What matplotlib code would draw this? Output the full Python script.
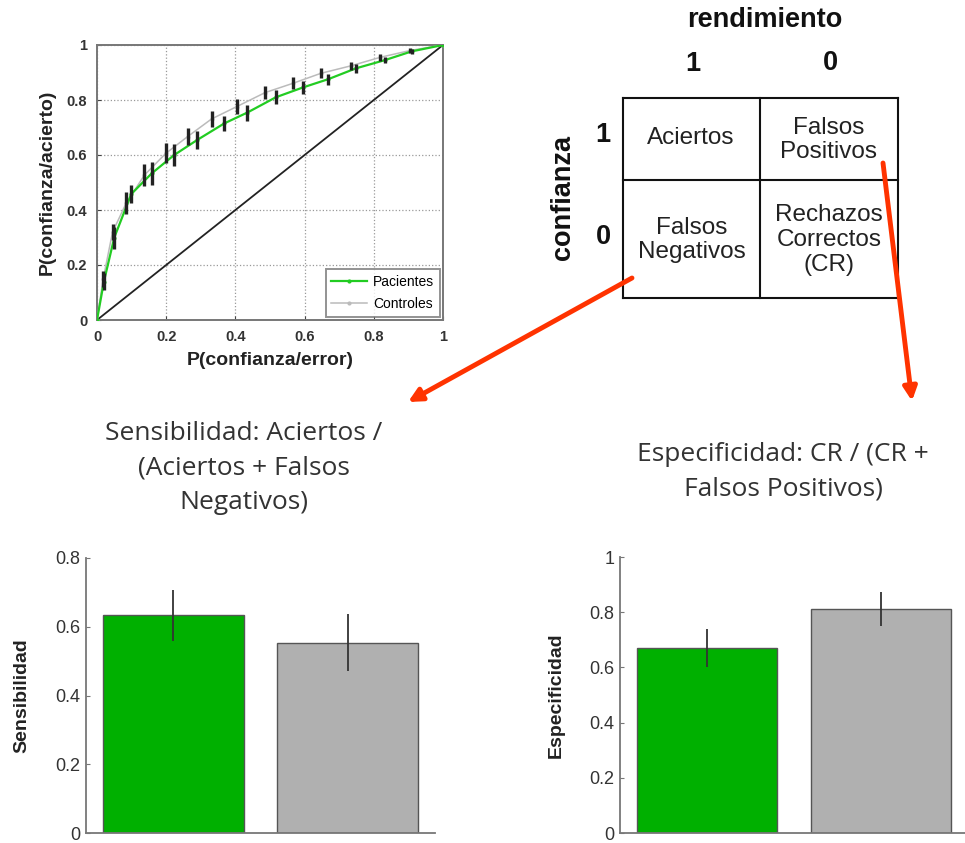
import matplotlib.pyplot as plt
import numpy as np

plt.rcParams['font.family'] = ['Liberation Sans', 'DejaVu Sans']

# ROC data: P(confianza/error) vs P(confianza/acierto)
ctrl_fa = [0, 0.018, 0.045, 0.084, 0.137, 0.199, 0.262, 0.331, 0.404, 0.486, 0.567, 0.647, 0.733, 0.818, 0.905, 1]
ctrl_hit = [0, 0.15, 0.32, 0.424, 0.527, 0.606, 0.667, 0.731, 0.776, 0.827, 0.861, 0.897, 0.924, 0.955, 0.98, 1]
ctrl_err = [0, 0.03, 0.03, 0.04, 0.041, 0.036, 0.032, 0.03, 0.028, 0.024, 0.021, 0.018, 0.015, 0.014, 0.008, 0]
pac_fa = [0, 0.02, 0.05, 0.099, 0.158, 0.223, 0.29, 0.368, 0.434, 0.517, 0.596, 0.669, 0.748, 0.832, 0.91, 1]
pac_hit = [0, 0.14, 0.30, 0.458, 0.533, 0.6, 0.655, 0.715, 0.754, 0.81, 0.846, 0.876, 0.915, 0.945, 0.977, 1]
pac_err = [0, 0.03, 0.04, 0.033, 0.042, 0.039, 0.032, 0.028, 0.029, 0.026, 0.024, 0.02, 0.016, 0.011, 0.008, 0]

# bar data (Pacientes, Controles)
groups = ['Pacientes', 'Controles']
sens = [0.634, 0.553]
sens_err = [0.074, 0.083]
spec = [0.670, 0.812]
spec_err = [0.070, 0.062]
bar_colors = ['#00b000', '#b0b0b0']

W, H = 965, 843
fig = plt.figure(figsize=(W / 100, H / 100), dpi=100)

def frac(left, top, right, bottom):
    return [left / W, 1 - bottom / H, (right - left) / W, (bottom - top) / H]

# ROC plot
ax = fig.add_axes(frac(97, 45, 443, 320))
ax.plot([0, 1], [0, 1], color='#222222', lw=1.3, zorder=2)
ax.plot(ctrl_fa, ctrl_hit, color='#bbbbbb', lw=1.1, marker='.', ms=4, label='Controles', zorder=3)
ax.plot(pac_fa, pac_hit, color='#22cc22', lw=1.6, marker='.', ms=4, label='Pacientes', zorder=4)
ax.errorbar(ctrl_fa, ctrl_hit, yerr=ctrl_err, fmt='none', ecolor='#222222', elinewidth=2.4, zorder=5)
ax.errorbar(pac_fa, pac_hit, yerr=pac_err, fmt='none', ecolor='#222222', elinewidth=2.4, zorder=5)
ax.set_xlim(0, 1)
ax.set_ylim(0, 1)
ticks = [0, 0.2, 0.4, 0.6, 0.8, 1]
ax.set_xticks(ticks)
ax.set_yticks(ticks)
ax.set_xticklabels(['0', '0.2', '0.4', '0.6', '0.8', '1'])
ax.set_yticklabels(['0', '0.2', '0.4', '0.6', '0.8', '1'])
ax.grid(True, linestyle=':', color='#999999', lw=0.9)
ax.tick_params(direction='in', length=3, labelsize=10.5, colors='#444444', labelcolor='#333333', pad=7)
for lab in ax.get_xticklabels() + ax.get_yticklabels():
    lab.set_fontweight('bold')
for s in ax.spines.values():
    s.set_color('#777777')
    s.set_linewidth(1.4)
ax.set_xlabel('P(confianza/error)', fontsize=14, fontweight='bold', color='#222222', labelpad=6)
ax.set_ylabel('P(confianza/acierto)', fontsize=14, fontweight='bold', color='#222222', labelpad=8)
h, l = ax.get_legend_handles_labels()
leg = ax.legend(h[::-1], l[::-1], loc='lower right', fontsize=10, frameon=True, fancybox=False,
                borderaxespad=0.25, handlelength=2.6, labelspacing=0.6, handletextpad=0.4)
leg.get_frame().set_edgecolor('#777777')
leg.get_frame().set_linewidth(1.4)

# bar plots
def bar_panel(rect, vals, errs, ymax, yticks, ylabel):
    b = fig.add_axes(rect)
    xs = np.arange(1, len(vals) + 1)
    b.bar(xs, vals, width=0.81, color=bar_colors, edgecolor='#555555', linewidth=1.0)
    b.errorbar(xs, vals, yerr=errs, fmt='none', ecolor='#333333', elinewidth=1.3)
    b.set_xlim(0.5, 2.5)
    b.set_ylim(0, ymax)
    b.set_yticks(yticks)
    b.set_yticklabels([('%g' % t) for t in yticks])
    b.set_xticks([])
    b.spines['top'].set_visible(False)
    b.spines['right'].set_visible(False)
    for s in ['left', 'bottom']:
        b.spines[s].set_color('#777777')
        b.spines[s].set_linewidth(1.3)
    b.tick_params(axis='y', direction='in', length=3, labelsize=13, colors='#777777', labelcolor='#333333', pad=4)
    b.set_ylabel(ylabel, fontsize=14, fontweight='bold', color='#222222', labelpad=18)
    return b

bar_panel(frac(86, 558, 435, 833), sens, sens_err, 0.8, [0, 0.2, 0.4, 0.6, 0.8], 'Sensibilidad')
bar_panel(frac(620, 557, 968, 833), spec, spec_err, 1.0, [0, 0.2, 0.4, 0.6, 0.8, 1], 'Especificidad')

# overlay in pixel coordinates for the table, captions and arrows
ov = fig.add_axes([0, 0, 1, 1], facecolor='none')
ov.set_xlim(0, W)
ov.set_ylim(H, 0)
ov.axis('off')

tl, tm, tr = 623, 760, 898
tt, tc, tb = 98, 180, 298
for x in [tl, tm, tr]:
    ov.plot([x, x], [tt, tb], color='#111111', lw=1.5)
for y in [tt, tc, tb]:
    ov.plot([tl, tr], [y, y], color='#111111', lw=1.5)

cell_kw = dict(ha='center', va='center', fontsize=17.5, color='#222222', linespacing=1.15)
ov.text(691, 138, 'Aciertos', **cell_kw)
ov.text(829, 140, 'Falsos\nPositivos', **cell_kw)
ov.text(692, 240, 'Falsos\nNegativos', **cell_kw)
ov.text(829, 240, 'Rechazos\nCorrectos\n(CR)', **cell_kw)

head_kw = dict(ha='center', va='center', fontsize=19.5, fontweight='bold', color='#111111')
ov.text(765, 20, 'rendimiento', **head_kw)
ov.text(693, 64, '1', **head_kw)
ov.text(830, 63, '0', **head_kw)
ov.text(603, 135, '1', **head_kw)
ov.text(603, 237, '0', **head_kw)
ov.text(563, 197, 'confianza', rotation=90, **head_kw)

cap_kw = dict(ha='center', va='center', fontsize=19, color='#333333', linespacing=1.5,
              family=['Open Sans', 'DejaVu Sans'])
ov.text(244, 468, 'Sensibilidad: Aciertos /\n(Aciertos + Falsos\nNegativos)', **cap_kw)
ov.text(783, 472, 'Especificidad: CR / (CR +\nFalsos Positivos)', **cap_kw)

arrow_kw = dict(arrowstyle='-|>', color='#ff3300', lw=3.5, mutation_scale=20, shrinkA=0, shrinkB=0)
ov.annotate('', xy=(408, 402), xytext=(632, 278), arrowprops=arrow_kw)
ov.annotate('', xy=(912, 401), xytext=(883, 163), arrowprops=arrow_kw)

fig.savefig('out.png', dpi=100)
